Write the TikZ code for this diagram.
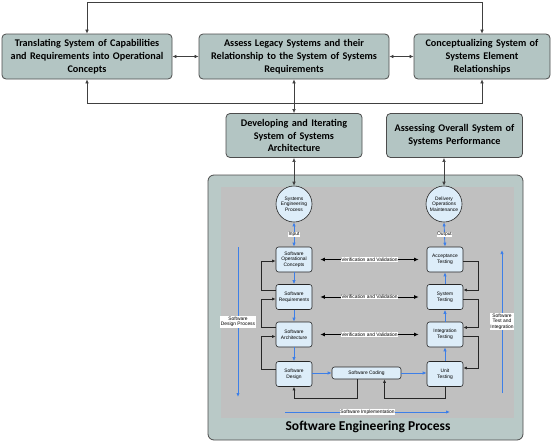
\documentclass[tikz,border=0pt]{standalone}
\usepackage{fontspec}
\setmainfont{Carlito}
\newfontfamily\helv{Liberation Sans}
\usetikzlibrary{arrows.meta,calc}
\definecolor{topfill}{HTML}{B3C5C3}
\definecolor{sefill}{HTML}{B9C9C7}
\definecolor{innerfill}{HTML}{C0C0C0}
\definecolor{boxblue}{HTML}{DDEDF9}
\definecolor{flowblue}{HTML}{3D7FE8}

\begin{document}
\begin{tikzpicture}[x=1pt, y=-1pt,
    topbox/.style={draw=black!70, fill=topfill, rounded corners=4pt, line width=0.8pt,
        minimum height=45pt, inner sep=0pt, align=center,
        font=\bfseries\fontsize{10.2}{12.8}\selectfont},
    swbox/.style={draw=black!85, fill=boxblue, rounded corners=2.5pt, line width=0.6pt,
        minimum width=36pt, minimum height=25pt, inner sep=0pt, align=center,
        font=\helv\fontsize{4.9}{5.6}\selectfont},
    circ/.style={circle, draw=black!85, fill=boxblue, line width=0.6pt, minimum size=36pt,
        inner sep=0pt, align=center, font=\helv\fontsize{4.9}{5.6}\selectfont},
    link/.style={draw=black!75, line width=0.6pt, -{Latex[length=4pt,width=3.6pt]}},
    both/.style={link, {Latex[length=4pt,width=3.6pt]}-{Latex[length=4pt,width=3.6pt]}},
    flow/.style={draw=flowblue, line width=0.9pt, -{Latex[length=4pt,width=3.4pt]}},
    flowboth/.style={flow, {Latex[length=4pt,width=3.4pt]}-{Latex[length=4pt,width=3.4pt]}},
    fb/.style={draw=black!85, line width=0.8pt, -{Latex[length=3.5pt,width=3pt]}},
    vv/.style={draw=black, line width=1pt, -{Latex[length=4.5pt,width=4pt]}},
    tag/.style={fill=white, inner sep=0.6pt, align=center, font=\helv\fontsize{4.9}{5.4}\selectfont}]

    \useasboundingbox (0,0) rectangle (552,442);

    % Upper level
    \node[topbox, minimum width=170pt, text width=165pt] (trans) at (87,56.5)
        {Translating System of Capabilities\\and Requirements into Operational\\Concepts};
    \node[topbox, minimum width=190pt, text width=185pt] (legacy) at (294,56.5)
        {Assess Legacy Systems and their\\Relationship to the System of Systems\\Requirements};
    \node[topbox, minimum width=136pt, text width=130pt] (concept) at (482,56.5)
        {Conceptualizing System of\\Systems Element\\Relationships};
    \node[topbox, minimum width=136pt, minimum height=44pt, text width=130pt] (develop) at (294,135.5)
        {Developing and Iterating\\System of Systems\\Architecture};
    \node[topbox, minimum width=136pt, minimum height=44pt, text width=130pt] (assess) at (454.5,135.5)
        {Assessing Overall System of\\Systems Performance};

    \draw[both] (trans) -- (legacy);
    \draw[both] (legacy) -- (concept);
    \draw[both] (trans.north) -- ++(0,-31) -| (concept.north);
    \draw[both] (trans.south) -- ++(0,24) -| (concept.south);
    \draw[both] (legacy.south) -- (develop.north);

    % Software engineering process
    \node[draw=black!70, fill=sefill, rounded corners=6pt, line width=0.8pt,
        minimum width=315pt, minimum height=265pt] (se) at (365.5,307.5) {};
    \node[fill=innerfill, minimum width=293pt, minimum height=231pt] (inner) at (367.5,302.5) {};
    \node[font=\bfseries\fontsize{13.5}{15}\selectfont] (setitle) at (368,427) {Software Engineering Process};

    \node[circ] (sep) at (294,204) {Systems\\Engineering\\Process};
    \node[circ] (deliver) at (444,204) {Delivery\\Operations\\Maintenance};

    \draw[both] (develop.south) -- (sep.north);
    \draw[both] (deliver.north |- assess.south) -- (deliver.north);

    % Design side
    \node[swbox] (opc) at (294,259.5) {Software\\Operational\\Concepts};
    \node[swbox] (req) at (294,297) {Software\\Requirements};
    \node[swbox] (arch) at (294,334.5) {Software\\Architecture};
    \node[swbox] (design) at (294,374) {Software\\Design};

    % Test side
    \node[swbox] (acc) at (445,259.5) {Acceptance\\Testing};
    \node[swbox] (sys) at (445,297) {System\\Testing};
    \node[swbox] (integ) at (445,334.5) {Integration\\Testing};
    \node[swbox] (unit) at (445,374) {Unit\\Testing};

    \node[swbox, minimum width=69pt, minimum height=12pt] (code) at (366.5,373) {Software Coding};

    \draw[flowboth] (sep.south) -- (opc.north) node[midway, tag] {Input};
    \draw[flowboth] (deliver.south) -- (acc.north) node[midway, tag] {Output};
    \draw[flow] (opc) -- (req);
    \draw[flow] (req) -- (arch);
    \draw[flow] (arch) -- (design);
    \draw[flow] (unit) -- (integ);
    \draw[flow] (integ) -- (sys);
    \draw[flow] (sys) -- (acc);
    \draw[flow] (design.east |- code) -- (code);
    \draw[flow] (code) -- (unit.west |- code);

    % Feedback loops
    \draw[fb] ([yshift=7pt]req.west) -- ++(-14,0) |- ([yshift=-1.5pt]opc.west);
    \draw[fb] ([yshift=7pt]arch.west) -- ++(-14,0) |- ([yshift=-2pt]req.west);
    \draw[fb] ([yshift=5pt]design.west) -- ++(-14,0) |- ([yshift=-2pt]arch.west);
    \draw[fb] ([yshift=-2pt]acc.east) -- ++(15,0) |- ([yshift=7pt]sys.east);
    \draw[fb] ([yshift=-2pt]sys.east) -- ++(15,0) |- ([yshift=7pt]integ.east);
    \draw[fb] ([yshift=-2pt]integ.east) -- ++(15,0) |- ([yshift=6pt]unit.east);
    \draw[fb] ([xshift=-9pt]code.south) -- ++(0,19) -| (design.south);
    \draw[fb] (unit.south) -- ++(0,12) -| ([xshift=18pt]code.south);

    % Verification and validation
    \foreach \l/\r in {opc/acc, req/sys, arch/integ} {
        \node[tag] (vv\l) at ($(\l.east)!0.5!(\r.west)$) {Verification and Validation};
        \draw[vv] (vv\l.west) -- ([xshift=8pt]\l.east);
        \draw[vv] (vv\l.east) -- ([xshift=-8pt]\r.west);
    }

    % Phase arrows
    \coordinate (dtop) at (238,247);
    \coordinate (dbot) at (238,397);
    \coordinate (tbot) at (502,393);
    \coordinate (ttop) at (502,250);
    \coordinate (ileft) at (285,412);
    \coordinate (iright) at (450,412);
    \draw[flow] (dtop) -- (dbot) node[midway, tag] {Software\\Design Process};
    \draw[flow] (tbot) -- (ttop) node[midway, tag] {Software\\Test and\\Integration};
    \draw[flow] (ileft) -- (iright) node[midway, tag] {Software Implementation};
\end{tikzpicture}
\end{document}
